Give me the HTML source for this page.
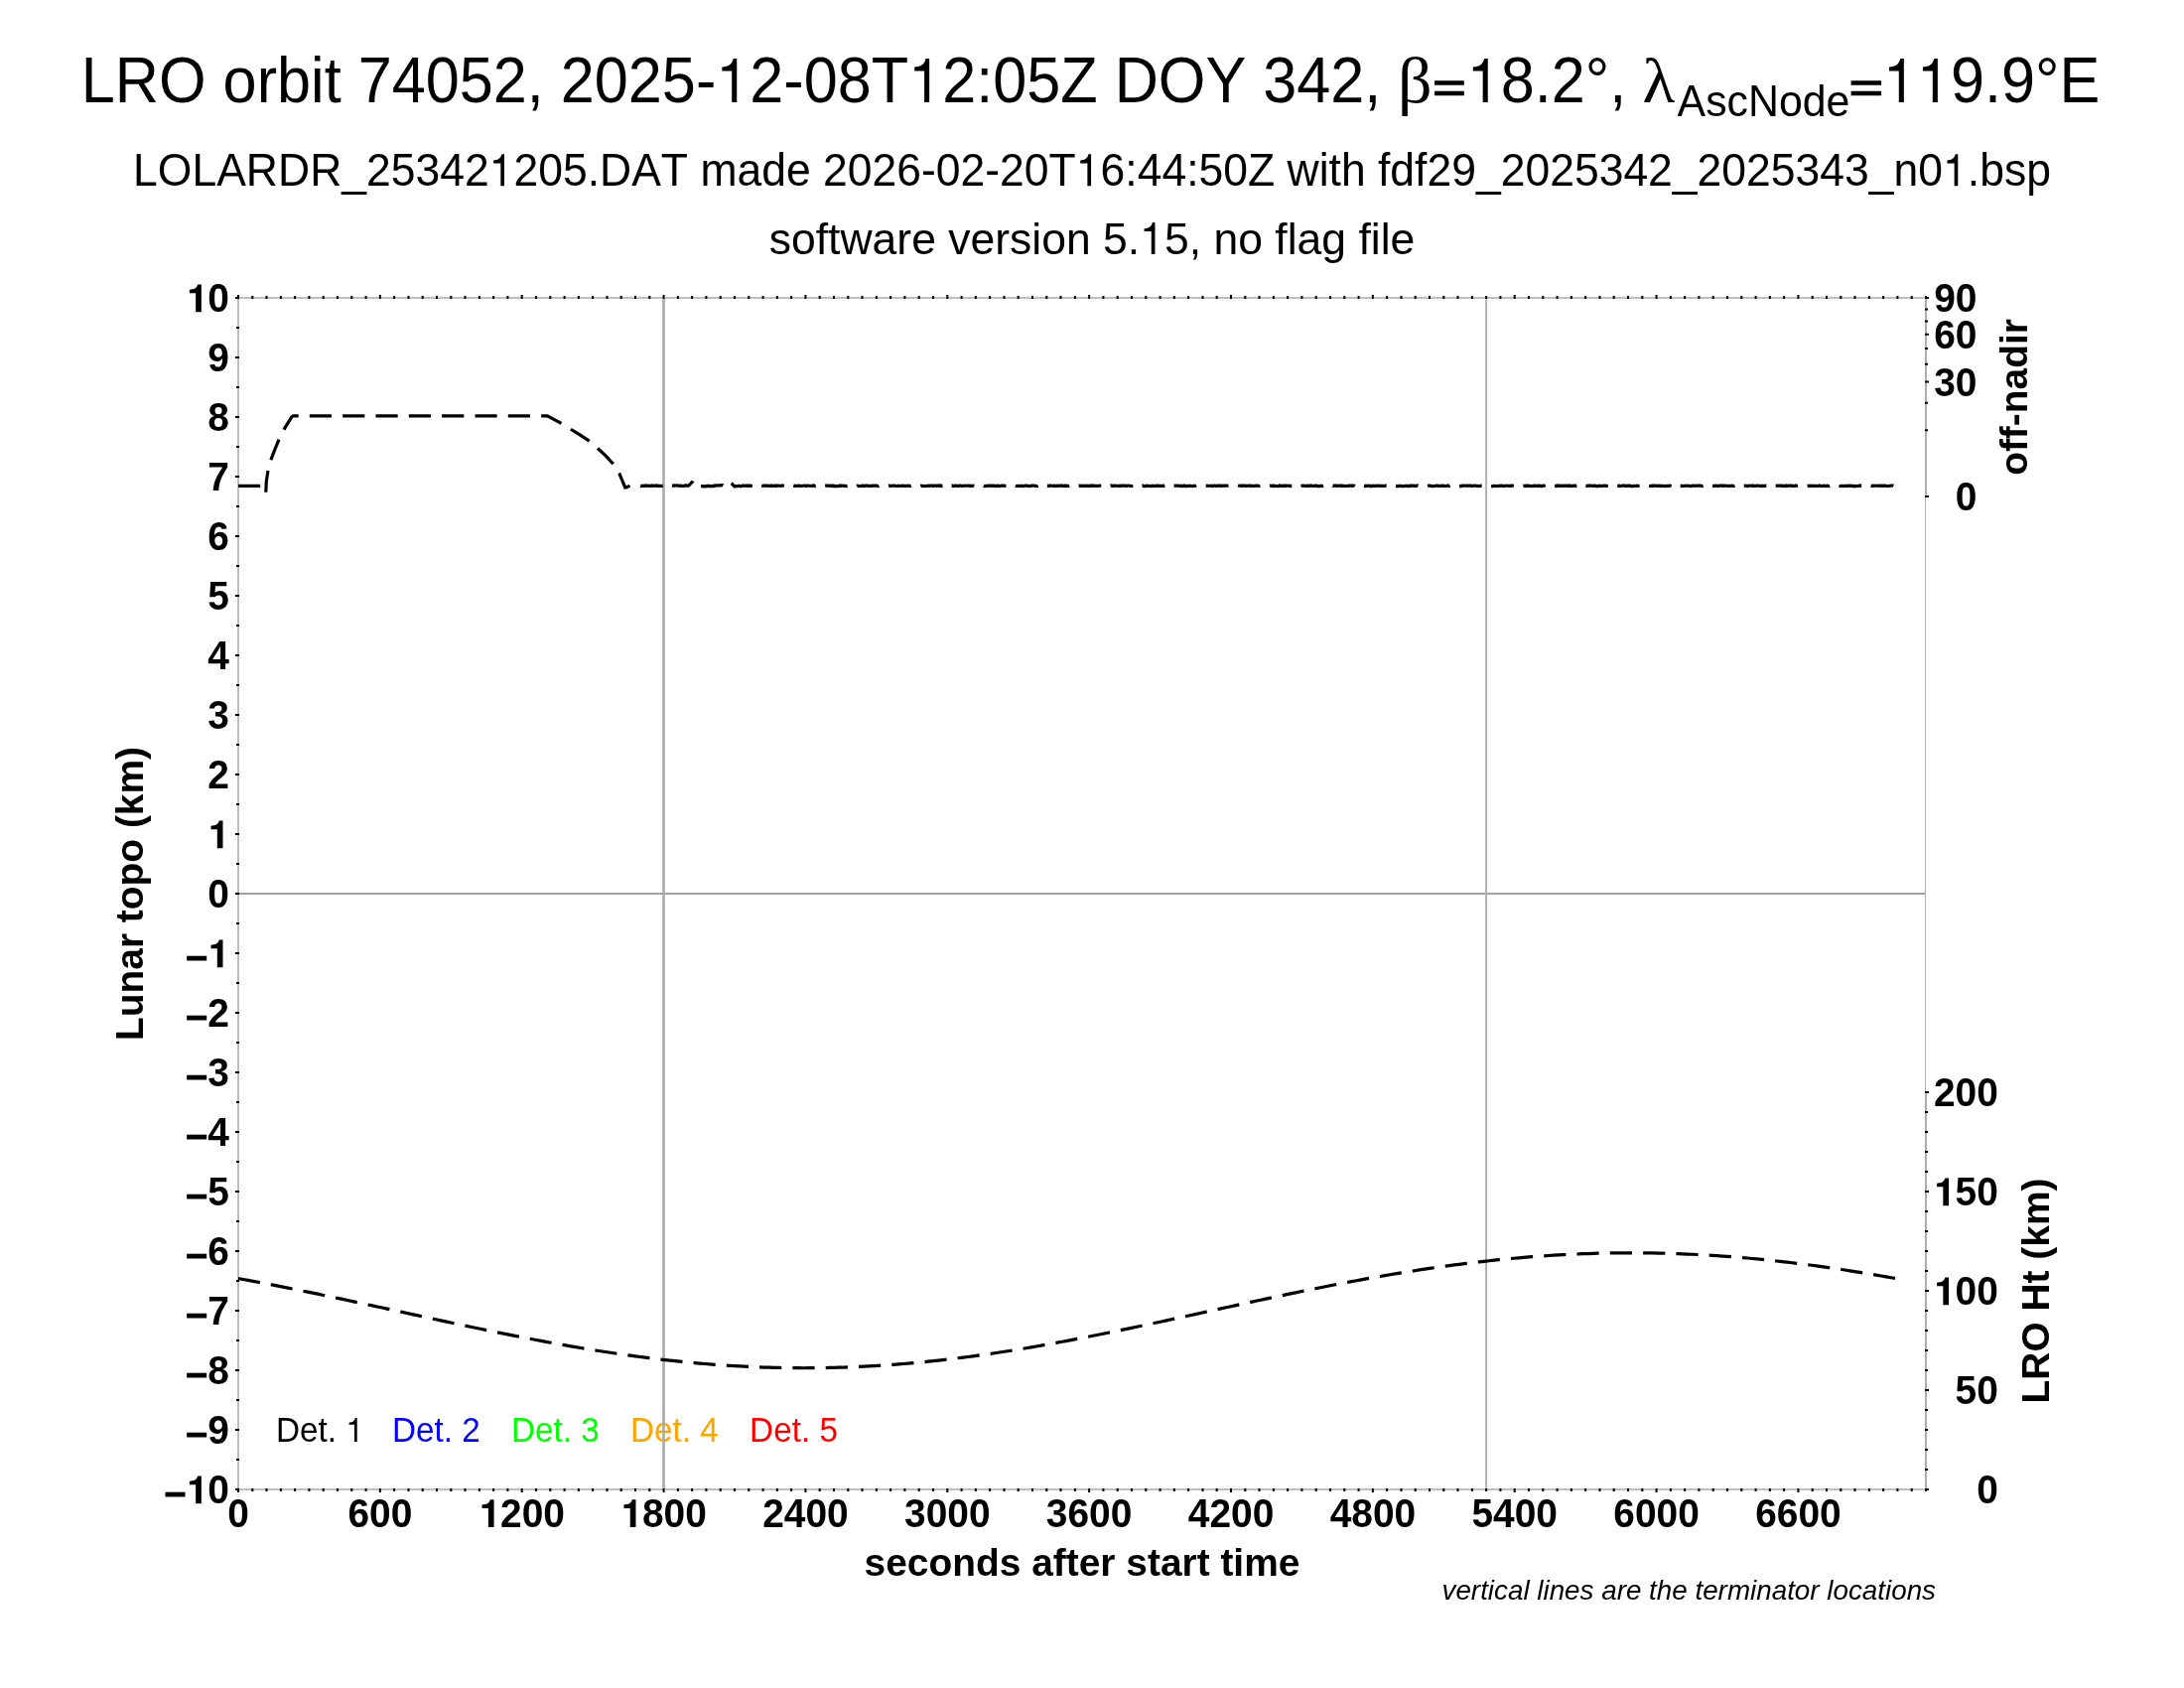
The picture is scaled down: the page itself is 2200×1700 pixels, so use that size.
<!DOCTYPE html><html><head><meta charset="utf-8"><title>LRO orbit 74052</title>
<style>html,body{margin:0;padding:0;background:#fff;}svg{display:block;will-change:transform;}text{font-family:"Liberation Sans",sans-serif;fill:#000;font-kerning:none;}.b{font-weight:bold;}.sym{font-family:"Liberation Serif",serif;}.h{visibility:hidden;}</style></head><body>
<svg width="2200" height="1700" viewBox="0 0 2200 1700">
<rect width="2200" height="1700" fill="#fff"/>
<g font-size="61.2">
<text id="t1" transform="translate(81.8 103) scale(1 1.045)">LRO orbit 74052, 2025-<tspan class="h">1</tspan>2-08T<tspan class="h">1</tspan>2:05Z DOY 342,</text>
<text id="t2" class="sym" transform="translate(1408.1000000000001 103) scale(1.11 1.07)">β</text>
<text id="t3" transform="translate(1477.74 103) scale(1 1.045)"><tspan class="h">1</tspan>8.2°,</text>
<path d="M1445 81.3h29.8v4.4h-29.8zM1445 91.8h29.8v4.4h-29.8zM1864.6 81.3h30.5v4.4h-30.5zM1864.6 91.8h30.5v4.4h-30.5z"/>
<text id="t4" class="sym" transform="translate(1654.4 103) scale(1.1 1.02)">λ</text>
<text id="t5" transform="translate(1689.6 116.5) scale(1 1.045)" font-size="42.84">AscNode</text>
<text id="t6" transform="translate(1896.84 103) scale(1 1.045)"><tspan class="h">1</tspan><tspan class="h">1</tspan>9.9°E</text>
</g>
<text id="sub1" transform="translate(1100.0 187.3) scale(1 1.045)" font-size="44.5" text-anchor="middle">LOLARDR_25342<tspan class="h">1</tspan>205.DAT made 2026-02-20T<tspan class="h">1</tspan>6:44:50Z with fdf29_2025342_2025343_n0<tspan class="h">1</tspan>.bsp</text>
<text id="sub2" x="1100.0" y="256" font-size="44.5" text-anchor="middle">software version 5.<tspan class="h">1</tspan>5, no flag file</text>
<text class="leg" transform="translate(278.0 1452) scale(1 1.055)" font-size="33.3" style="fill:#000000">Det. <tspan class="h">1</tspan></text>
<text class="leg" transform="translate(394.9 1452) scale(1 1.055)" font-size="33.3" style="fill:#0000ff">Det. 2</text>
<text class="leg" transform="translate(515.0 1452) scale(1 1.055)" font-size="33.3" style="fill:#00ff00">Det. 3</text>
<text class="leg" transform="translate(635.0 1452) scale(1 1.055)" font-size="33.3" style="fill:#ffa500">Det. 4</text>
<text class="leg" transform="translate(755.1 1452) scale(1 1.055)" font-size="33.3" style="fill:#ff0000">Det. 5</text>
<rect x="240" y="899" width="1700" height="2" fill="#a2a2a2"/>
<rect x="667.2" y="300" width="2.6" height="1200" fill="#a9a9a9"/>
<rect x="1496.1" y="300" width="2" height="1200" fill="#b2b2b2"/>
<g fill="#bebebe">
<rect x="239" y="299" width="1702" height="2"/>
<rect x="239" y="1499" width="1702" height="2"/>
<rect x="239" y="299" width="2" height="1202"/>
<rect x="1939" y="299" width="1" height="1202" fill="#b0b0b0"/>
<rect x="1939" y="299" width="2" height="202" fill="#adadad"/>
<rect x="1939" y="1099" width="2" height="402" fill="#adadad"/>
</g>
<path d="M240.00 297V301M240.00 1499V1503M254.29 298V301M254.29 1499V1502M268.57 298V301M268.57 1499V1502M282.86 298V301M282.86 1499V1502M297.14 298V301M297.14 1499V1502M311.43 298V301M311.43 1499V1502M325.71 298V301M325.71 1499V1502M340.00 298V301M340.00 1499V1502M354.29 298V301M354.29 1499V1502M368.57 298V301M368.57 1499V1502M382.86 297V301M382.86 1499V1503M397.14 298V301M397.14 1499V1502M411.43 298V301M411.43 1499V1502M425.71 298V301M425.71 1499V1502M440.00 298V301M440.00 1499V1502M454.29 298V301M454.29 1499V1502M468.57 298V301M468.57 1499V1502M482.86 298V301M482.86 1499V1502M497.14 298V301M497.14 1499V1502M511.43 298V301M511.43 1499V1502M525.71 297V301M525.71 1499V1503M540.00 298V301M540.00 1499V1502M554.29 298V301M554.29 1499V1502M568.57 298V301M568.57 1499V1502M582.86 298V301M582.86 1499V1502M597.14 298V301M597.14 1499V1502M611.43 298V301M611.43 1499V1502M625.71 298V301M625.71 1499V1502M640.00 298V301M640.00 1499V1502M654.29 298V301M654.29 1499V1502M668.57 297V301M668.57 1499V1503M682.86 298V301M682.86 1499V1502M697.14 298V301M697.14 1499V1502M711.43 298V301M711.43 1499V1502M725.71 298V301M725.71 1499V1502M740.00 298V301M740.00 1499V1502M754.29 298V301M754.29 1499V1502M768.57 298V301M768.57 1499V1502M782.86 298V301M782.86 1499V1502M797.14 298V301M797.14 1499V1502M811.43 297V301M811.43 1499V1503M825.71 298V301M825.71 1499V1502M840.00 298V301M840.00 1499V1502M854.29 298V301M854.29 1499V1502M868.57 298V301M868.57 1499V1502M882.86 298V301M882.86 1499V1502M897.14 298V301M897.14 1499V1502M911.43 298V301M911.43 1499V1502M925.71 298V301M925.71 1499V1502M940.00 298V301M940.00 1499V1502M954.29 297V301M954.29 1499V1503M968.57 298V301M968.57 1499V1502M982.86 298V301M982.86 1499V1502M997.14 298V301M997.14 1499V1502M1011.43 298V301M1011.43 1499V1502M1025.71 298V301M1025.71 1499V1502M1040.00 298V301M1040.00 1499V1502M1054.29 298V301M1054.29 1499V1502M1068.57 298V301M1068.57 1499V1502M1082.86 298V301M1082.86 1499V1502M1097.14 297V301M1097.14 1499V1503M1111.43 298V301M1111.43 1499V1502M1125.71 298V301M1125.71 1499V1502M1140.00 298V301M1140.00 1499V1502M1154.29 298V301M1154.29 1499V1502M1168.57 298V301M1168.57 1499V1502M1182.86 298V301M1182.86 1499V1502M1197.14 298V301M1197.14 1499V1502M1211.43 298V301M1211.43 1499V1502M1225.71 298V301M1225.71 1499V1502M1240.00 297V301M1240.00 1499V1503M1254.29 298V301M1254.29 1499V1502M1268.57 298V301M1268.57 1499V1502M1282.86 298V301M1282.86 1499V1502M1297.14 298V301M1297.14 1499V1502M1311.43 298V301M1311.43 1499V1502M1325.71 298V301M1325.71 1499V1502M1340.00 298V301M1340.00 1499V1502M1354.29 298V301M1354.29 1499V1502M1368.57 298V301M1368.57 1499V1502M1382.86 297V301M1382.86 1499V1503M1397.14 298V301M1397.14 1499V1502M1411.43 298V301M1411.43 1499V1502M1425.71 298V301M1425.71 1499V1502M1440.00 298V301M1440.00 1499V1502M1454.29 298V301M1454.29 1499V1502M1468.57 298V301M1468.57 1499V1502M1482.86 298V301M1482.86 1499V1502M1497.14 298V301M1497.14 1499V1502M1511.43 298V301M1511.43 1499V1502M1525.71 297V301M1525.71 1499V1503M1540.00 298V301M1540.00 1499V1502M1554.29 298V301M1554.29 1499V1502M1568.57 298V301M1568.57 1499V1502M1582.86 298V301M1582.86 1499V1502M1597.14 298V301M1597.14 1499V1502M1611.43 298V301M1611.43 1499V1502M1625.71 298V301M1625.71 1499V1502M1640.00 298V301M1640.00 1499V1502M1654.29 298V301M1654.29 1499V1502M1668.57 297V301M1668.57 1499V1503M1682.86 298V301M1682.86 1499V1502M1697.14 298V301M1697.14 1499V1502M1711.43 298V301M1711.43 1499V1502M1725.71 298V301M1725.71 1499V1502M1740.00 298V301M1740.00 1499V1502M1754.29 298V301M1754.29 1499V1502M1768.57 298V301M1768.57 1499V1502M1782.86 298V301M1782.86 1499V1502M1797.14 298V301M1797.14 1499V1502M1811.43 297V301M1811.43 1499V1503M1825.71 298V301M1825.71 1499V1502M1840.00 298V301M1840.00 1499V1502M1854.29 298V301M1854.29 1499V1502M1868.57 298V301M1868.57 1499V1502M1882.86 298V301M1882.86 1499V1502M1897.14 298V301M1897.14 1499V1502M1911.43 298V301M1911.43 1499V1502M1925.71 298V301M1925.71 1499V1502M1940.00 298V301M1940.00 1499V1502M237 1500.00H241M238 1470.00H241M237 1440.00H241M238 1410.00H241M237 1380.00H241M238 1350.00H241M237 1320.00H241M238 1290.00H241M237 1260.00H241M238 1230.00H241M237 1200.00H241M238 1170.00H241M237 1140.00H241M238 1110.00H241M237 1080.00H241M238 1050.00H241M237 1020.00H241M238 990.00H241M237 960.00H241M238 930.00H241M237 900.00H241M238 870.00H241M237 840.00H241M238 810.00H241M237 780.00H241M238 750.00H241M237 720.00H241M238 690.00H241M237 660.00H241M238 630.00H241M237 600.00H241M238 570.00H241M237 540.00H241M238 510.00H241M237 480.00H241M238 450.00H241M237 420.00H241M238 390.00H241M237 360.00H241M238 330.00H241M237 300.00H241M1939 500.00H1943M1939 433.33H1942M1939 405.72H1942M1939 384.53H1943M1939 366.67H1942M1939 350.93H1942M1939 336.70H1943M1939 323.62H1942M1939 311.44H1942M1939 300.00H1943M1939 1500.00H1943M1939 1480.00H1942M1939 1460.00H1942M1939 1440.00H1942M1939 1420.00H1942M1939 1400.00H1943M1939 1380.00H1942M1939 1360.00H1942M1939 1340.00H1942M1939 1320.00H1942M1939 1300.00H1943M1939 1280.00H1942M1939 1260.00H1942M1939 1240.00H1942M1939 1220.00H1942M1939 1200.00H1943M1939 1180.00H1942M1939 1160.00H1942M1939 1140.00H1942M1939 1120.00H1942M1939 1100.00H1943" stroke="#000" stroke-width="2" fill="none"/>
<g fill="none" stroke="#000" stroke-width="3.2" stroke-dasharray="22.22 11.11">
<path d="M240 489.40L267.4 489.40L267.8 495.70L268.3 485.00L270.1 473.10L273.3 461.90L277.2 451.80L281.3 442.00L286.7 431.40L293.8 419.80L295.3 418.90L551.3 418.90L565.8 426.60L575.3 432.50L583.3 437.30L594 444.40L602.3 451.80L610 458.90L617.7 467.20L621 471.80L623.9 477.00L627.7 486.10L629.8 490.90L631.5 490.60L634.5 489.10"/>
<path d="M635.9 489.14L636.9 489.32L637.9 489.21L638.9 489.35L639.9 489.35L640.9 489.01L641.9 488.98L642.9 489.47L643.9 489.11L644.9 489.09L645.9 489.55L646.9 489.22L647.9 489.44L648.9 489.22L649.9 489.31L650.9 489.01L651.9 489.30L652.9 489.43L653.9 489.22L654.9 489.35L655.9 489.30L656.9 488.93L657.9 489.34L658.9 489.23L659.9 489.06L660.9 488.89L661.9 489.38L662.9 489.14L663.9 489.29L664.9 489.38L665.9 489.27L666.9 489.39L667.9 489.07L668.9 489.31L669.9 489.09L670.9 489.38L671.9 489.34L672.9 488.87L673.9 488.88L674.9 488.93L675.9 489.37L676.9 489.05L677.9 489.16L678.9 488.96L679.9 489.08L680.9 489.00L681.9 488.97L682.9 489.11L683.9 489.10L684.9 489.29L685.9 489.15L686.9 489.29L687.9 489.24L688.9 489.32L689.9 489.12L690.9 488.81L691.9 489.22L692.9 489.28L693.9 488.87L694.9 487.75L695.9 486.91L696.9 485.68L697.9 486.07L698.9 487.35L699.9 488.61L700.9 489.38L701.9 489.97L702.9 490.16L703.9 489.73L704.9 490.14L705.9 489.86L706.9 489.65L707.9 489.69L708.9 489.93L709.9 489.94L710.9 489.39L711.9 489.69L712.9 489.29L713.9 489.65L714.9 489.37L715.9 489.65L716.9 489.66L717.9 489.33L718.9 489.57L719.9 489.11L720.9 488.92L721.9 489.19L722.9 488.80L723.9 488.85L724.9 488.92L725.9 489.00L726.9 488.70L727.9 488.66L728.9 489.17L729.9 488.86L730.9 489.27L731.9 488.56L732.9 487.50L733.9 486.80L734.9 486.09L735.9 486.34L736.9 486.96L737.9 487.94L738.9 488.97L739.9 489.95L740.9 489.65L741.9 489.55L742.9 489.68L743.9 489.34L744.9 489.33L745.9 489.69L746.9 489.37L747.9 489.33L748.9 489.01L749.9 489.25L750.9 489.35L751.9 489.01L752.9 489.37L753.9 489.38L754.9 489.04L755.9 489.38L756.9 489.28L757.9 489.41L758.9 489.21L759.9 489.42L760.9 489.44L761.9 489.01L762.9 489.04L763.9 489.41L764.9 489.58L765.9 489.15L766.9 489.27L767.9 489.36L768.9 489.19L769.9 489.22L770.9 489.19L771.9 489.22L772.9 489.36L773.9 489.18L774.9 489.23L775.9 489.46L776.9 489.02L777.9 489.34L778.9 489.44L779.9 489.19L780.9 489.13L781.9 489.48L782.9 489.14L783.9 489.11L784.9 489.26L785.9 489.42L786.9 489.06L787.9 489.19L788.9 489.20L789.9 489.50L790.9 489.26L791.9 489.51L792.9 489.10L793.9 489.20L794.9 489.39L795.9 489.53L796.9 489.27L797.9 489.14L798.9 489.07L799.9 489.32L800.9 489.11L801.9 489.48L802.9 489.50L803.9 489.11L804.9 489.17L805.9 489.48L806.9 489.39L807.9 489.48L808.9 489.21L809.9 489.08L810.9 489.18L811.9 489.48L812.9 489.16L813.9 489.21L814.9 489.25L815.9 489.25L816.9 489.25L817.9 489.55L818.9 489.09L819.9 489.00L820.9 489.57L821.9 489.53L822.9 489.59L823.9 489.26L824.9 489.57L825.9 489.56L826.9 489.13L827.9 489.45L828.9 489.50L829.9 489.40L830.9 489.31L831.9 489.17L832.9 489.20L833.9 489.14L834.9 489.04L835.9 489.35L836.9 489.17L837.9 489.49L838.9 489.03L839.9 489.54L840.9 489.42L841.9 489.55L842.9 489.54L843.9 489.54L844.9 489.35L845.9 489.01L846.9 489.45L847.9 489.10L848.9 489.18L849.9 489.40L850.9 489.31L851.9 489.25L852.9 489.56L853.9 489.37L854.9 489.20L855.9 489.15L856.9 489.52L857.9 489.29L858.9 489.47L859.9 489.21L860.9 489.12L861.9 489.32L862.9 489.49L863.9 489.10L864.9 489.48L865.9 489.55L866.9 489.48L867.9 489.49L868.9 489.00L869.9 489.38L870.9 489.52L871.9 489.03L872.9 489.16L873.9 489.16L874.9 489.32L875.9 489.25L876.9 489.28L877.9 489.47L878.9 489.00L879.9 489.03L880.9 489.08L881.9 489.07L882.9 489.04L883.9 489.58L884.9 489.51L885.9 489.05L886.9 489.30L887.9 489.19L888.9 489.19L889.9 489.21L890.9 489.39L891.9 489.35L892.9 489.22L893.9 489.11L894.9 489.20L895.9 489.07L896.9 489.33L897.9 489.43L898.9 489.23L899.9 489.05L900.9 489.11L901.9 489.22L902.9 489.36L903.9 489.47L904.9 489.23L905.9 489.48L906.9 489.37L907.9 489.26L908.9 489.22L909.9 489.30L910.9 489.42L911.9 489.25L912.9 489.42L913.9 489.28L914.9 489.15L915.9 489.32L916.9 489.42L917.9 489.04L918.9 489.25L919.9 489.26L920.9 489.53L921.9 489.56L922.9 489.22L923.9 489.54L924.9 489.47L925.9 489.16L926.9 489.28L927.9 489.07L928.9 489.49L929.9 489.40L930.9 489.53L931.9 489.48L932.9 489.40L933.9 489.44L934.9 489.34L935.9 489.06L936.9 489.35L937.9 489.00L938.9 489.09L939.9 489.46L940.9 489.03L941.9 489.06L942.9 489.06L943.9 489.53L944.9 489.11L945.9 489.01L946.9 489.50L947.9 489.07L948.9 489.51L949.9 489.40L950.9 489.50L951.9 489.57L952.9 489.35L953.9 489.48L954.9 489.02L955.9 489.46L956.9 489.31L957.9 489.43L958.9 489.06L959.9 489.45L960.9 489.56L961.9 489.04L962.9 489.19L963.9 489.34L964.9 489.50L965.9 489.15L966.9 489.11L967.9 489.15L968.9 489.37L969.9 489.45L970.9 489.24L971.9 489.22L972.9 489.24L973.9 489.21L974.9 489.25L975.9 489.05L976.9 489.30L977.9 489.58L978.9 489.25L979.9 489.45L980.9 489.10L981.9 489.41L982.9 489.45L983.9 489.40L984.9 489.31L985.9 489.29L986.9 489.39L987.9 489.54L988.9 489.09L989.9 489.06L990.9 489.45L991.9 489.55L992.9 489.31L993.9 489.27L994.9 489.43L995.9 489.11L996.9 489.16L997.9 489.12L998.9 489.35L999.9 489.19L1000.9 489.14L1001.9 489.41L1002.9 489.57L1003.9 489.18L1004.9 489.42L1005.9 489.25L1006.9 489.51L1007.9 489.35L1008.9 489.16L1009.9 489.13L1010.9 489.01L1011.9 489.29L1012.9 489.23L1013.9 489.10L1014.9 489.22L1015.9 489.19L1016.9 489.46L1017.9 489.09L1018.9 489.59L1019.9 489.29L1020.9 489.36L1021.9 489.28L1022.9 489.50L1023.9 489.49L1024.9 489.33L1025.9 489.29L1026.9 489.43L1027.9 489.51L1028.9 489.24L1029.9 489.44L1030.9 489.58L1031.9 489.28L1032.9 489.14L1033.9 489.14L1034.9 489.43L1035.9 489.41L1036.9 489.58L1037.9 489.51L1038.9 489.15L1039.9 489.11L1040.9 489.16L1041.9 489.11L1042.9 489.42L1043.9 489.52L1044.9 489.54L1045.9 489.15L1046.9 489.52L1047.9 489.19L1048.9 489.25L1049.9 489.44L1050.9 489.05L1051.9 489.06L1052.9 489.50L1053.9 489.18L1054.9 489.21L1055.9 489.35L1056.9 489.41L1057.9 489.00L1058.9 489.20L1059.9 489.26L1060.9 489.29L1061.9 489.13L1062.9 489.35L1063.9 489.57L1064.9 489.23L1065.9 489.33L1066.9 489.07L1067.9 489.16L1068.9 489.40L1069.9 489.07L1070.9 489.53L1071.9 489.55L1072.9 489.06L1073.9 489.56L1074.9 489.22L1075.9 489.46L1076.9 489.45L1077.9 489.18L1078.9 489.41L1079.9 489.39L1080.9 489.48L1081.9 489.16L1082.9 489.45L1083.9 489.58L1084.9 489.40L1085.9 489.32L1086.9 489.07L1087.9 489.30L1088.9 489.21L1089.9 489.43L1090.9 489.41L1091.9 489.34L1092.9 489.11L1093.9 489.39L1094.9 489.38L1095.9 489.11L1096.9 489.53L1097.9 489.39L1098.9 489.07L1099.9 489.56L1100.9 489.08L1101.9 489.20L1102.9 489.43L1103.9 489.36L1104.9 489.33L1105.9 489.39L1106.9 489.27L1107.9 489.19L1108.9 489.11L1109.9 489.04L1110.9 489.43L1111.9 489.45L1112.9 489.33L1113.9 489.44L1114.9 489.22L1115.9 489.16L1116.9 489.23L1117.9 489.52L1118.9 489.03L1119.9 489.30L1120.9 489.15L1121.9 489.46L1122.9 489.21L1123.9 489.20L1124.9 489.24L1125.9 489.32L1126.9 489.46L1127.9 489.21L1128.9 489.51L1129.9 489.07L1130.9 489.16L1131.9 489.06L1132.9 489.07L1133.9 489.47L1134.9 489.44L1135.9 489.11L1136.9 489.11L1137.9 489.25L1138.9 489.45L1139.9 489.49L1140.9 489.45L1141.9 489.36L1142.9 489.09L1143.9 489.24L1144.9 489.12L1145.9 489.32L1146.9 489.34L1147.9 489.12L1148.9 489.15L1149.9 489.47L1150.9 489.02L1151.9 489.48L1152.9 489.53L1153.9 489.57L1154.9 489.23L1155.9 489.33L1156.9 489.35L1157.9 489.38L1158.9 489.59L1159.9 489.41L1160.9 489.18L1161.9 489.52L1162.9 489.29L1163.9 489.36L1164.9 489.44L1165.9 489.00L1166.9 489.46L1167.9 489.40L1168.9 489.30L1169.9 489.31L1170.9 489.28L1171.9 489.12L1172.9 489.32L1173.9 489.02L1174.9 489.30L1175.9 489.39L1176.9 489.27L1177.9 489.34L1178.9 489.58L1179.9 489.54L1180.9 489.08L1181.9 489.48L1182.9 489.37L1183.9 489.03L1184.9 489.22L1185.9 489.14L1186.9 489.05L1187.9 489.32L1188.9 489.56L1189.9 489.19L1190.9 489.52L1191.9 489.42L1192.9 489.08L1193.9 489.51L1194.9 489.36L1195.9 489.56L1196.9 489.43L1197.9 489.44L1198.9 489.21L1199.9 489.48L1200.9 489.56L1201.9 489.52L1202.9 489.26L1203.9 489.45L1204.9 489.29L1205.9 489.07L1206.9 489.03L1207.9 489.05L1208.9 489.12L1209.9 489.10L1210.9 489.30L1211.9 489.42L1212.9 489.32L1213.9 489.25L1214.9 489.39L1215.9 489.18L1216.9 489.28L1217.9 489.45L1218.9 489.24L1219.9 489.11L1220.9 489.54L1221.9 489.43L1222.9 489.22L1223.9 489.22L1224.9 489.32L1225.9 489.36L1226.9 489.13L1227.9 489.00L1228.9 489.13L1229.9 489.47L1230.9 489.09L1231.9 489.28L1232.9 489.12L1233.9 489.13L1234.9 489.10L1235.9 489.24L1236.9 489.10L1237.9 489.02L1238.9 489.07L1239.9 489.10L1240.9 489.29L1241.9 489.04L1242.9 489.01L1243.9 489.27L1244.9 489.24L1245.9 489.42L1246.9 489.03L1247.9 489.24L1248.9 489.24L1249.9 489.02L1250.9 489.58L1251.9 489.13L1252.9 489.06L1253.9 489.28L1254.9 489.10L1255.9 489.37L1256.9 489.21L1257.9 489.07L1258.9 489.03L1259.9 489.44L1260.9 489.17L1261.9 489.47L1262.9 489.28L1263.9 489.56L1264.9 489.18L1265.9 489.15L1266.9 489.16L1267.9 489.49L1268.9 489.38L1269.9 489.21L1270.9 489.06L1271.9 489.41L1272.9 489.58L1273.9 489.36L1274.9 489.00L1275.9 489.02L1276.9 489.05L1277.9 489.10L1278.9 489.02L1279.9 489.03L1280.9 489.39L1281.9 489.54L1282.9 489.12L1283.9 489.58L1284.9 489.29L1285.9 489.48L1286.9 489.55L1287.9 489.56L1288.9 489.02L1289.9 489.18L1290.9 489.36L1291.9 489.57L1292.9 489.05L1293.9 489.18L1294.9 489.51L1295.9 489.07L1296.9 489.23L1297.9 489.20L1298.9 489.41L1299.9 489.56L1300.9 489.10L1301.9 489.44L1302.9 489.44L1303.9 489.50L1304.9 489.33L1305.9 489.55L1306.9 489.22L1307.9 489.25L1308.9 489.14L1309.9 489.47L1310.9 489.29L1311.9 489.16L1312.9 489.10L1313.9 489.43L1314.9 489.36L1315.9 489.43L1316.9 489.23L1317.9 489.29L1318.9 489.09L1319.9 489.43L1320.9 489.01L1321.9 489.28L1322.9 489.46L1323.9 489.41L1324.9 489.06L1325.9 489.14L1326.9 489.51L1327.9 489.39L1328.9 489.53L1329.9 489.52L1330.9 489.27L1331.9 489.54L1332.9 489.44L1333.9 489.20L1334.9 489.22L1335.9 489.04L1336.9 489.24L1337.9 489.57L1338.9 489.06L1339.9 489.34L1340.9 489.07L1341.9 489.05L1342.9 489.39L1343.9 489.14L1344.9 489.03L1345.9 489.09L1346.9 489.39L1347.9 489.35L1348.9 489.01L1349.9 489.14L1350.9 489.58L1351.9 489.13L1352.9 489.34L1353.9 489.25L1354.9 489.47L1355.9 489.36L1356.9 489.47L1357.9 489.32L1358.9 489.11L1359.9 489.11L1360.9 489.05L1361.9 489.50L1362.9 489.07L1363.9 489.01L1364.9 489.58L1365.9 489.12L1366.9 489.54L1367.9 489.05L1368.9 489.28L1369.9 489.13L1370.9 489.50L1371.9 489.37L1372.9 489.39L1373.9 489.46L1374.9 489.52L1375.9 489.21L1376.9 489.36L1377.9 489.27L1378.9 489.07L1379.9 489.50L1380.9 489.36L1381.9 489.49L1382.9 489.12L1383.9 489.32L1384.9 489.28L1385.9 489.44L1386.9 489.05L1387.9 489.21L1388.9 489.29L1389.9 489.04L1390.9 489.33L1391.9 489.44L1392.9 489.25L1393.9 489.39L1394.9 489.36L1395.9 489.13L1396.9 489.21L1397.9 489.60L1398.9 489.20L1399.9 489.26L1400.9 489.05L1401.9 489.13L1402.9 489.10L1403.9 489.56L1404.9 489.44L1405.9 489.52L1406.9 489.59L1407.9 489.37L1408.9 489.56L1409.9 489.32L1410.9 489.25L1411.9 489.57L1412.9 489.54L1413.9 489.57L1414.9 489.29L1415.9 489.46L1416.9 489.24L1417.9 489.60L1418.9 489.55L1419.9 489.18L1420.9 489.56L1421.9 489.11L1422.9 489.06L1423.9 489.43L1424.9 489.18L1425.9 489.31L1426.9 489.38L1427.9 489.02L1428.9 489.45L1429.9 489.17L1430.9 489.26L1431.9 489.21L1432.9 489.45L1433.9 489.45L1434.9 489.17L1435.9 489.06L1436.9 489.18L1437.9 489.25L1438.9 489.05L1439.9 489.09L1440.9 489.46L1441.9 489.42L1442.9 489.59L1443.9 489.59L1444.9 489.53L1445.9 489.22L1446.9 489.10L1447.9 489.19L1448.9 489.28L1449.9 489.32L1450.9 489.33L1451.9 489.22L1452.9 489.51L1453.9 489.17L1454.9 489.28L1455.9 489.53L1456.9 489.48L1457.9 489.18L1458.9 489.15L1459.9 489.48L1460.9 489.01L1461.9 489.08L1462.9 489.32L1463.9 489.32L1464.9 489.10L1465.9 489.03L1466.9 489.12L1467.9 489.46L1468.9 489.28L1469.9 489.59L1470.9 489.47L1471.9 489.59L1472.9 489.02L1473.9 489.11L1474.9 489.01L1475.9 489.26L1476.9 489.20L1477.9 489.03L1478.9 489.33L1479.9 489.06L1480.9 489.19L1481.9 489.15L1482.9 489.48L1483.9 489.25L1484.9 489.16L1485.9 489.03L1486.9 489.26L1487.9 489.38L1488.9 489.41L1489.9 489.55L1490.9 489.49L1491.9 489.15L1492.9 489.08L1493.9 489.45L1494.9 489.47L1495.9 489.31L1496.9 489.50L1497.9 489.33L1498.9 489.17L1499.9 489.10L1500.9 489.01L1501.9 489.39L1502.9 489.54L1503.9 489.54L1504.9 489.28L1505.9 489.40L1506.9 489.56L1507.9 489.49L1508.9 489.36L1509.9 489.25L1510.9 489.31L1511.9 489.10L1512.9 489.11L1513.9 489.41L1514.9 489.60L1515.9 489.33L1516.9 489.24L1517.9 489.21L1518.9 489.27L1519.9 489.48L1520.9 489.27L1521.9 489.58L1522.9 489.09L1523.9 489.19L1524.9 489.31L1525.9 489.25L1526.9 489.51L1527.9 489.50L1528.9 489.56L1529.9 489.37L1530.9 489.02L1531.9 489.34L1532.9 489.33L1533.9 489.29L1534.9 489.17L1535.9 489.43L1536.9 489.55L1537.9 489.06L1538.9 489.40L1539.9 489.22L1540.9 489.31L1541.9 489.54L1542.9 489.58L1543.9 489.39L1544.9 489.12L1545.9 489.55L1546.9 489.11L1547.9 489.23L1548.9 489.50L1549.9 489.19L1550.9 489.16L1551.9 489.57L1552.9 489.57L1553.9 489.19L1554.9 489.24L1555.9 489.17L1556.9 489.08L1557.9 489.15L1558.9 489.59L1559.9 489.05L1560.9 489.14L1561.9 489.12L1562.9 489.05L1563.9 489.32L1564.9 489.45L1565.9 489.50L1566.9 489.38L1567.9 489.49L1568.9 489.00L1569.9 489.17L1570.9 489.58L1571.9 489.04L1572.9 489.16L1573.9 489.29L1574.9 489.16L1575.9 489.33L1576.9 489.03L1577.9 489.14L1578.9 489.57L1579.9 489.09L1580.9 489.54L1581.9 489.11L1582.9 489.60L1583.9 489.40L1584.9 489.39L1585.9 489.09L1586.9 489.03L1587.9 489.46L1588.9 489.11L1589.9 489.11L1590.9 489.49L1591.9 489.52L1592.9 489.03L1593.9 489.58L1594.9 489.32L1595.9 489.23L1596.9 489.06L1597.9 489.23L1598.9 489.59L1599.9 489.17L1600.9 489.08L1601.9 489.09L1602.9 489.08L1603.9 489.21L1604.9 489.55L1605.9 489.05L1606.9 489.12L1607.9 489.56L1608.9 489.60L1609.9 489.59L1610.9 489.15L1611.9 489.21L1612.9 489.57L1613.9 489.29L1614.9 489.42L1615.9 489.19L1616.9 489.01L1617.9 489.21L1618.9 489.45L1619.9 489.47L1620.9 489.34L1621.9 489.28L1622.9 489.32L1623.9 489.27L1624.9 489.32L1625.9 489.50L1626.9 489.12L1627.9 489.36L1628.9 489.56L1629.9 489.51L1630.9 489.11L1631.9 489.58L1632.9 489.50L1633.9 489.10L1634.9 489.16L1635.9 489.12L1636.9 489.03L1637.9 489.59L1638.9 489.25L1639.9 489.52L1640.9 489.07L1641.9 489.01L1642.9 489.52L1643.9 489.48L1644.9 489.59L1645.9 489.41L1646.9 489.32L1647.9 489.46L1648.9 489.06L1649.9 489.32L1650.9 489.26L1651.9 489.09L1652.9 489.36L1653.9 489.19L1654.9 489.30L1655.9 489.22L1656.9 489.19L1657.9 489.22L1658.9 489.36L1659.9 489.59L1660.9 489.56L1661.9 489.52L1662.9 489.50L1663.9 489.17L1664.9 489.59L1665.9 489.16L1666.9 489.07L1667.9 489.30L1668.9 489.44L1669.9 489.20L1670.9 489.39L1671.9 489.17L1672.9 489.58L1673.9 489.27L1674.9 489.29L1675.9 489.32L1676.9 489.52L1677.9 489.59L1678.9 489.32L1679.9 489.26L1680.9 489.37L1681.9 489.04L1682.9 489.26L1683.9 489.51L1684.9 489.47L1685.9 489.04L1686.9 489.51L1687.9 489.23L1688.9 489.59L1689.9 489.22L1690.9 489.13L1691.9 489.33L1692.9 489.53L1693.9 489.26L1694.9 489.52L1695.9 489.43L1696.9 489.22L1697.9 489.18L1698.9 489.30L1699.9 489.24L1700.9 489.22L1701.9 489.39L1702.9 489.53L1703.9 489.35L1704.9 489.09L1705.9 489.13L1706.9 489.22L1707.9 489.37L1708.9 489.08L1709.9 489.05L1710.9 489.19L1711.9 489.17L1712.9 489.02L1713.9 489.32L1714.9 489.55L1715.9 489.32L1716.9 489.44L1717.9 489.50L1718.9 489.50L1719.9 489.55L1720.9 489.26L1721.9 489.41L1722.9 489.07L1723.9 489.53L1724.9 489.23L1725.9 489.29L1726.9 489.53L1727.9 489.17L1728.9 489.11L1729.9 489.49L1730.9 489.36L1731.9 489.05L1732.9 489.02L1733.9 489.21L1734.9 489.00L1735.9 489.50L1736.9 489.11L1737.9 489.16L1738.9 489.23L1739.9 489.31L1740.9 489.26L1741.9 489.38L1742.9 489.40L1743.9 489.26L1744.9 489.06L1745.9 489.59L1746.9 489.41L1747.9 489.05L1748.9 489.27L1749.9 489.45L1750.9 489.60L1751.9 489.04L1752.9 489.01L1753.9 489.29L1754.9 489.25L1755.9 489.54L1756.9 489.50L1757.9 489.20L1758.9 489.25L1759.9 489.35L1760.9 489.53L1761.9 489.12L1762.9 489.24L1763.9 489.05L1764.9 489.38L1765.9 489.02L1766.9 489.56L1767.9 489.31L1768.9 489.34L1769.9 489.05L1770.9 489.14L1771.9 489.28L1772.9 489.51L1773.9 489.32L1774.9 489.17L1775.9 489.59L1776.9 489.40L1777.9 489.32L1778.9 489.12L1779.9 489.18L1780.9 489.54L1781.9 489.08L1782.9 489.32L1783.9 489.37L1784.9 489.21L1785.9 489.46L1786.9 489.55L1787.9 489.51L1788.9 489.44L1789.9 489.12L1790.9 489.04L1791.9 489.26L1792.9 489.19L1793.9 489.12L1794.9 489.52L1795.9 489.13L1796.9 489.49L1797.9 489.56L1798.9 489.07L1799.9 489.55L1800.9 489.24L1801.9 489.13L1802.9 489.11L1803.9 489.02L1804.9 489.30L1805.9 489.23L1806.9 489.51L1807.9 489.50L1808.9 489.03L1809.9 489.24L1810.9 489.23L1811.9 489.11L1812.9 489.15L1813.9 489.16L1814.9 489.42L1815.9 489.20L1816.9 489.07L1817.9 489.13L1818.9 489.27L1819.9 489.34L1820.9 489.15L1821.9 489.42L1822.9 489.13L1823.9 489.40L1824.9 489.37L1825.9 489.11L1826.9 489.45L1827.9 489.24L1828.9 489.32L1829.9 489.36L1830.9 489.38L1831.9 489.27L1832.9 489.03L1833.9 489.47L1834.9 489.52L1835.9 489.29L1836.9 489.35L1837.9 489.16L1838.9 489.54L1839.9 489.41L1840.9 489.13L1841.9 489.49L1842.9 489.59L1843.9 489.21L1844.9 489.60L1845.9 489.29L1846.9 489.11L1847.9 489.43L1848.9 489.20L1849.9 489.44L1850.9 489.35L1851.9 489.06L1852.9 489.32L1853.9 489.51L1854.9 489.29L1855.9 489.32L1856.9 489.52L1857.9 489.27L1858.9 489.30L1859.9 489.35L1860.9 489.49L1861.9 489.12L1862.9 489.06L1863.9 489.46L1864.9 489.33L1865.9 489.18L1866.9 489.54L1867.9 489.53L1868.9 489.32L1869.9 489.59L1870.9 489.50L1871.9 489.45L1872.9 489.17L1873.9 489.01L1874.9 489.41L1875.9 489.44L1876.9 489.21L1877.9 489.29L1878.9 489.34L1879.9 489.15L1880.9 489.42L1881.9 489.34L1882.9 489.23L1883.9 489.07L1884.9 489.33L1885.9 489.19L1886.9 489.43L1887.9 489.10L1888.9 489.24L1889.9 489.12L1890.9 489.24L1891.9 489.35L1892.9 489.06L1893.9 489.03L1894.9 489.29L1895.9 489.12L1896.9 489.30L1897.9 489.10L1898.9 489.06L1899.9 489.32L1900.9 489.55L1901.9 489.52L1902.9 489.31L1903.9 489.24L1904.9 489.04L1905.9 489.17L1906.9 489.19L1907.9 489.56L1908.9 489.07L1909.3 489.30" stroke-dasharray="23.2 9.6" stroke-dashoffset="23.2"/>
<path d="M240 1287.62L245 1288.52L250 1289.43L255 1290.36L260 1291.29L265 1292.23L270 1293.19L275 1294.15L280 1295.12L285 1296.10L290 1297.09L295 1298.09L300 1299.09L305 1300.11L310 1301.13L315 1302.15L320 1303.19L325 1304.23L330 1305.27L335 1306.32L340 1307.38L345 1308.44L350 1309.51L355 1310.58L360 1311.65L365 1312.72L370 1313.80L375 1314.88L380 1315.97L385 1317.05L390 1318.14L395 1319.23L400 1320.32L405 1321.40L410 1322.49L415 1323.58L420 1324.67L425 1325.75L430 1326.84L435 1327.92L440 1329.00L445 1330.07L450 1331.15L455 1332.22L460 1333.28L465 1334.34L470 1335.40L475 1336.45L480 1337.50L485 1338.54L490 1339.57L495 1340.60L500 1341.62L505 1342.63L510 1343.63L515 1344.63L520 1345.62L525 1346.59L530 1347.56L535 1348.52L540 1349.47L545 1350.41L550 1351.34L555 1352.26L560 1353.16L565 1354.06L570 1354.94L575 1355.81L580 1356.67L585 1357.51L590 1358.34L595 1359.16L600 1359.96L605 1360.75L610 1361.52L615 1362.28L620 1363.03L625 1363.75L630 1364.47L635 1365.16L640 1365.84L645 1366.50L650 1367.15L655 1367.78L660 1368.39L665 1368.99L670 1369.56L675 1370.12L680 1370.66L685 1371.18L690 1371.68L695 1372.17L700 1372.63L705 1373.08L710 1373.50L715 1373.91L720 1374.30L725 1374.66L730 1375.01L735 1375.33L740 1375.64L745 1375.93L750 1376.19L755 1376.43L760 1376.66L765 1376.86L770 1377.04L775 1377.20L780 1377.34L785 1377.46L790 1377.55L795 1377.63L800 1377.68L805 1377.72L810 1377.73L815 1377.72L820 1377.68L825 1377.63L830 1377.56L835 1377.46L840 1377.35L845 1377.21L850 1377.05L855 1376.87L860 1376.67L865 1376.44L870 1376.20L875 1375.94L880 1375.65L885 1375.35L890 1375.02L895 1374.67L900 1374.31L905 1373.92L910 1373.52L915 1373.09L920 1372.64L925 1372.18L930 1371.69L935 1371.19L940 1370.67L945 1370.13L950 1369.57L955 1368.99L960 1368.39L965 1367.78L970 1367.15L975 1366.50L980 1365.84L985 1365.16L990 1364.46L995 1363.74L1000 1363.01L1005 1362.26L1010 1361.50L1015 1360.73L1020 1359.93L1025 1359.13L1030 1358.31L1035 1357.47L1040 1356.62L1045 1355.76L1050 1354.89L1055 1354.00L1060 1353.10L1065 1352.19L1070 1351.27L1075 1350.34L1080 1349.39L1085 1348.44L1090 1347.47L1095 1346.50L1100 1345.51L1105 1344.52L1110 1343.52L1115 1342.51L1120 1341.49L1125 1340.46L1130 1339.43L1135 1338.39L1140 1337.35L1145 1336.29L1150 1335.24L1155 1334.17L1160 1333.11L1165 1332.04L1170 1330.96L1175 1329.88L1180 1328.80L1185 1327.71L1190 1326.62L1195 1325.53L1200 1324.44L1205 1323.35L1210 1322.25L1215 1321.16L1220 1320.07L1225 1318.97L1230 1317.88L1235 1316.79L1240 1315.69L1245 1314.61L1250 1313.52L1255 1312.43L1260 1311.35L1265 1310.28L1270 1309.20L1275 1308.13L1280 1307.07L1285 1306.01L1290 1304.95L1295 1303.90L1300 1302.86L1305 1301.82L1310 1300.79L1315 1299.77L1320 1298.75L1325 1297.74L1330 1296.74L1335 1295.75L1340 1294.77L1345 1293.79L1350 1292.83L1355 1291.87L1360 1290.93L1365 1290.00L1370 1289.07L1375 1288.16L1380 1287.26L1385 1286.37L1390 1285.49L1395 1284.63L1400 1283.77L1405 1282.93L1410 1282.11L1415 1281.29L1420 1280.49L1425 1279.71L1430 1278.94L1435 1278.18L1440 1277.43L1445 1276.71L1450 1275.99L1455 1275.30L1460 1274.61L1465 1273.95L1470 1273.30L1475 1272.66L1480 1272.04L1485 1271.44L1490 1270.86L1495 1270.29L1500 1269.74L1505 1269.20L1510 1268.69L1515 1268.19L1520 1267.71L1525 1267.24L1530 1266.80L1535 1266.37L1540 1265.96L1545 1265.57L1550 1265.20L1555 1264.85L1560 1264.51L1565 1264.20L1570 1263.90L1575 1263.63L1580 1263.37L1585 1263.13L1590 1262.91L1595 1262.71L1600 1262.53L1605 1262.37L1610 1262.22L1615 1262.10L1620 1262.00L1625 1261.92L1630 1261.85L1635 1261.81L1640 1261.79L1645 1261.78L1650 1261.80L1655 1261.83L1660 1261.89L1665 1261.96L1670 1262.05L1675 1262.17L1680 1262.30L1685 1262.45L1690 1262.62L1695 1262.81L1700 1263.03L1705 1263.25L1710 1263.50L1715 1263.77L1720 1264.06L1725 1264.36L1730 1264.69L1735 1265.03L1740 1265.39L1745 1265.78L1750 1266.17L1755 1266.59L1760 1267.03L1765 1267.48L1770 1267.95L1775 1268.44L1780 1268.95L1785 1269.47L1790 1270.01L1795 1270.57L1800 1271.14L1805 1271.73L1810 1272.34L1815 1272.97L1820 1273.61L1825 1274.26L1830 1274.93L1835 1275.62L1840 1276.32L1845 1277.04L1850 1277.77L1855 1278.52L1860 1279.28L1865 1280.05L1870 1280.84L1875 1281.65L1880 1282.46L1885 1283.29L1890 1284.13L1895 1284.99L1900 1285.85L1905 1286.73L1909.3 1287.49"/>
</g>
<g class="b" font-size="38.9">
<text class="yl" transform="translate(231.0 1514.3) scale(1 1.04)" text-anchor="end"><tspan class="h">1</tspan>0</text>
<rect x="166.5" y="1502.7" width="20" height="4.8"/>
<text class="yl" transform="translate(231.0 1454.3) scale(1 1.04)" text-anchor="end">9</text>
<rect x="188.2" y="1442.7" width="20" height="4.8"/>
<text class="yl" transform="translate(231.0 1394.3) scale(1 1.04)" text-anchor="end">8</text>
<rect x="188.2" y="1382.7" width="20" height="4.8"/>
<text class="yl" transform="translate(231.0 1334.3) scale(1 1.04)" text-anchor="end">7</text>
<rect x="188.2" y="1322.7" width="20" height="4.8"/>
<text class="yl" transform="translate(231.0 1274.3) scale(1 1.04)" text-anchor="end">6</text>
<rect x="188.2" y="1262.7" width="20" height="4.8"/>
<text class="yl" transform="translate(231.0 1214.3) scale(1 1.04)" text-anchor="end">5</text>
<rect x="188.2" y="1202.7" width="20" height="4.8"/>
<text class="yl" transform="translate(231.0 1154.3) scale(1 1.04)" text-anchor="end">4</text>
<rect x="188.2" y="1142.7" width="20" height="4.8"/>
<text class="yl" transform="translate(231.0 1094.3) scale(1 1.04)" text-anchor="end">3</text>
<rect x="188.2" y="1082.7" width="20" height="4.8"/>
<text class="yl" transform="translate(231.0 1034.3) scale(1 1.04)" text-anchor="end">2</text>
<rect x="188.2" y="1022.7" width="20" height="4.8"/>
<text class="yl" transform="translate(231.0 974.3) scale(1 1.04)" text-anchor="end"><tspan class="h">1</tspan></text>
<rect x="188.2" y="962.7" width="20" height="4.8"/>
<text class="yl" transform="translate(231.0 914.3) scale(1 1.04)" text-anchor="end">0</text>
<text class="yl" transform="translate(231.0 854.3) scale(1 1.04)" text-anchor="end"><tspan class="h">1</tspan></text>
<text class="yl" transform="translate(231.0 794.3) scale(1 1.04)" text-anchor="end">2</text>
<text class="yl" transform="translate(231.0 734.3) scale(1 1.04)" text-anchor="end">3</text>
<text class="yl" transform="translate(231.0 674.3) scale(1 1.04)" text-anchor="end">4</text>
<text class="yl" transform="translate(231.0 614.3) scale(1 1.04)" text-anchor="end">5</text>
<text class="yl" transform="translate(231.0 554.3) scale(1 1.04)" text-anchor="end">6</text>
<text class="yl" transform="translate(231.0 494.3) scale(1 1.04)" text-anchor="end">7</text>
<text class="yl" transform="translate(231.0 434.3) scale(1 1.04)" text-anchor="end">8</text>
<text class="yl" transform="translate(231.0 374.3) scale(1 1.04)" text-anchor="end">9</text>
<text class="yl" transform="translate(231.0 314.3) scale(1 1.04)" text-anchor="end"><tspan class="h">1</tspan>0</text>
<text class="xl" transform="translate(240.0 1538.0) scale(1 1.04)" text-anchor="middle">0</text>
<text class="xl" transform="translate(382.9 1538.0) scale(1 1.04)" text-anchor="middle">600</text>
<text class="xl" transform="translate(525.7 1538.0) scale(1 1.04)" text-anchor="middle"><tspan class="h">1</tspan>200</text>
<text class="xl" transform="translate(668.6 1538.0) scale(1 1.04)" text-anchor="middle"><tspan class="h">1</tspan>800</text>
<text class="xl" transform="translate(811.4 1538.0) scale(1 1.04)" text-anchor="middle">2400</text>
<text class="xl" transform="translate(954.3 1538.0) scale(1 1.04)" text-anchor="middle">3000</text>
<text class="xl" transform="translate(1097.1 1538.0) scale(1 1.04)" text-anchor="middle">3600</text>
<text class="xl" transform="translate(1240.0 1538.0) scale(1 1.04)" text-anchor="middle">4200</text>
<text class="xl" transform="translate(1382.9 1538.0) scale(1 1.04)" text-anchor="middle">4800</text>
<text class="xl" transform="translate(1525.7 1538.0) scale(1 1.04)" text-anchor="middle">5400</text>
<text class="xl" transform="translate(1668.6 1538.0) scale(1 1.04)" text-anchor="middle">6000</text>
<text class="xl" transform="translate(1811.4 1538.0) scale(1 1.04)" text-anchor="middle">6600</text>
<text class="rl" transform="translate(1991.5 514.3) scale(1 1.04)" text-anchor="end">0</text>
<text class="rl" transform="translate(1991.5 398.8) scale(1 1.04)" text-anchor="end">30</text>
<text class="rl" transform="translate(1991.5 351.0) scale(1 1.04)" text-anchor="end">60</text>
<text class="rl" transform="translate(1991.5 314.3) scale(1 1.04)" text-anchor="end">90</text>
<text class="hl" transform="translate(2012.8 1514.3) scale(1 1.04)" text-anchor="end">0</text>
<text class="hl" transform="translate(2012.8 1414.3) scale(1 1.04)" text-anchor="end">50</text>
<text class="hl" transform="translate(2012.8 1314.3) scale(1 1.04)" text-anchor="end"><tspan class="h">1</tspan>00</text>
<text class="hl" transform="translate(2012.8 1214.3) scale(1 1.04)" text-anchor="end"><tspan class="h">1</tspan>50</text>
<text class="hl" transform="translate(2012.8 1114.3) scale(1 1.04)" text-anchor="end">200</text>
</g>
<g class="b" font-size="38.9" text-anchor="middle">
<text id="xlab" x="1090" y="1587">seconds after start time</text>
<text id="ylab" transform="translate(144 900) rotate(-90)">Lunar topo (km)</text>
<text id="offlab" transform="translate(2042 400) rotate(-90)">off-nadir</text>
<text id="htlab" transform="translate(2064.3 1300) rotate(-90)">LRO Ht (km)</text>
</g>
<text id="foot" x="1950" y="1611" font-size="27.8" font-style="italic" text-anchor="end">vertical lines are the terminator locations</text>
<g id="ones"><path transform="matrix(1 0 0 1.045 81.80 103.00) translate(639.47 0.00) scale(0.06120 -0.05856)" d="M260.5 0V515H99V581C209 585 260 620 285 718H343V0Z"/>
<path transform="matrix(1 0 0 1.045 81.80 103.00) translate(833.36 0.00) scale(0.06120 -0.05856)" d="M260.5 0V515H99V581C209 585 260 620 285 718H343V0Z"/>
<path transform="matrix(1 0 0 1.045 1477.74 103.00) translate(0.00 0.00) scale(0.06120 -0.05856)" d="M260.5 0V515H99V581C209 585 260 620 285 718H343V0Z"/>
<path transform="matrix(1 0 0 1.045 1896.84 103.00) translate(0.00 0.00) scale(0.06120 -0.05856)" d="M260.5 0V515H99V581C209 585 260 620 285 718H343V0Z"/>
<path transform="matrix(1 0 0 1.045 1896.84 103.00) translate(34.04 0.00) scale(0.06120 -0.05856)" d="M260.5 0V515H99V581C209 585 260 620 285 718H343V0Z"/>
<path transform="matrix(1 0 0 1.045 1100.00 187.30) translate(-607.28 0.00) scale(0.04450 -0.04258)" d="M260.5 0V515H99V581C209 585 260 620 285 718H343V0Z"/>
<path transform="matrix(1 0 0 1.045 1100.00 187.30) translate(-16.21 0.00) scale(0.04450 -0.04258)" d="M260.5 0V515H99V581C209 585 260 620 285 718H343V0Z"/>
<path transform="matrix(1 0 0 1.045 1100.00 187.30) translate(857.04 0.00) scale(0.04450 -0.04258)" d="M260.5 0V515H99V581C209 585 260 620 285 718H343V0Z"/>
<path transform="matrix(1 0 0 1 0.00 0.00) translate(1148.20 256.00) scale(0.04450 -0.04450)" d="M260.5 0V515H99V581C209 585 260 620 285 718H343V0Z"/>
<path transform="matrix(1 0 0 1.055 278.00 1452.00) translate(70.31 0.00) scale(0.03330 -0.03156)" d="M260.5 0V515H99V581C209 585 260 620 285 718H343V0Z"/>
<path transform="matrix(1 0 0 1.04 231.00 1514.30) translate(-43.28 0.00) scale(0.03890 -0.03740)" d="M243 0V487H81V582C201 586 265 615 295 713H389V0Z"/>
<path transform="matrix(1 0 0 1.04 231.00 974.30) translate(-21.64 0.00) scale(0.03890 -0.03740)" d="M243 0V487H81V582C201 586 265 615 295 713H389V0Z"/>
<path transform="matrix(1 0 0 1.04 231.00 854.30) translate(-21.64 0.00) scale(0.03890 -0.03740)" d="M243 0V487H81V582C201 586 265 615 295 713H389V0Z"/>
<path transform="matrix(1 0 0 1.04 231.00 314.30) translate(-43.28 0.00) scale(0.03890 -0.03740)" d="M243 0V487H81V582C201 586 265 615 295 713H389V0Z"/>
<path transform="matrix(1 0 0 1.04 525.70 1538.00) translate(-43.27 0.00) scale(0.03890 -0.03740)" d="M243 0V487H81V582C201 586 265 615 295 713H389V0Z"/>
<path transform="matrix(1 0 0 1.04 668.60 1538.00) translate(-43.27 0.00) scale(0.03890 -0.03740)" d="M243 0V487H81V582C201 586 265 615 295 713H389V0Z"/>
<path transform="matrix(1 0 0 1.04 2012.80 1314.30) translate(-64.91 0.00) scale(0.03890 -0.03740)" d="M243 0V487H81V582C201 586 265 615 295 713H389V0Z"/>
<path transform="matrix(1 0 0 1.04 2012.80 1214.30) translate(-64.91 0.00) scale(0.03890 -0.03740)" d="M243 0V487H81V582C201 586 265 615 295 713H389V0Z"/></g>
</svg></body></html>
